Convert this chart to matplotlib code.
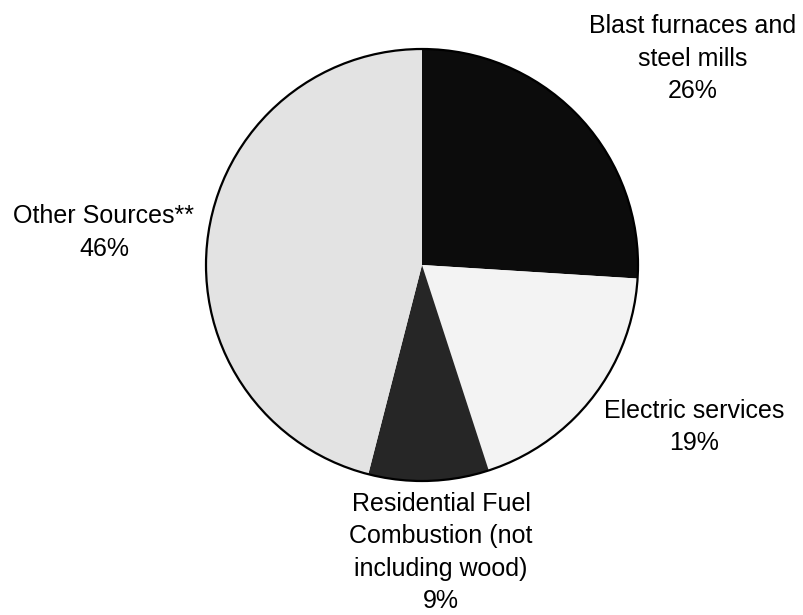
import matplotlib
matplotlib.use("Agg")
import matplotlib.pyplot as plt
from matplotlib.patches import Circle

plt.rcParams['font.family'] = ['Liberation Sans', 'DejaVu Sans']

# Share of emissions by source category
categories = [
    "Blast furnaces and\nsteel mills",
    "Electric services",
    "Residential Fuel\nCombustion (not\nincluding wood)",
    "Other Sources**",
]
percents = [26, 19, 9, 46]
slice_colors = ["#0c0c0c", "#f3f3f3", "#262626", "#e3e3e3"]

W, H = 804, 615
fig = plt.figure(figsize=(W / 100, H / 100), dpi=100)
ax = fig.add_axes([0, 0, 1, 1])

cx, cy, r = 422, H - 265, 216
wedges, _ = ax.pie(
    percents,
    startangle=90,
    counterclock=False,
    colors=slice_colors,
    center=(cx, cy),
    radius=r,
    wedgeprops=dict(linewidth=0, antialiased=True),
)
ax.add_patch(Circle((cx, cy), r, fill=False, edgecolor="black", linewidth=1.6, zorder=5))

ax.set_xlim(0, W)
ax.set_ylim(0, H)
ax.set_aspect("auto")
ax.axis("off")

# label anchor: (center x in px, baseline of first line in px)
label_pos = [(693, 33), (694, 418), (441, 511), (104, 223)]
line_step = 32.5
for cat, pct, (x, y0) in zip(categories, percents, label_pos):
    lines = cat.split("\n") + [f"{pct}%"]
    for i, line in enumerate(lines):
        ax.text(x, H - (y0 + i * line_step), line, ha="center", va="baseline",
                fontsize=18, color="black")

fig.savefig("out.png", dpi=100, facecolor="white")
